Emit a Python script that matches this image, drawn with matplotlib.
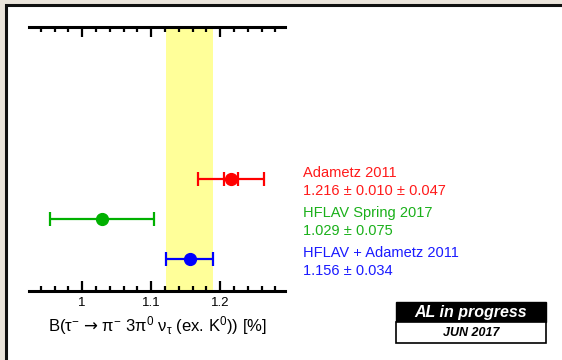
import numpy as np
import matplotlib
matplotlib.use("Agg")
import matplotlib.pyplot as plt
from matplotlib.patches import Rectangle
from matplotlib import transforms

plt.rcParams['font.family'] = ['Liberation Sans', 'DejaVu Sans']
plt.rcParams['mathtext.fontset'] = 'custom'
plt.rcParams['mathtext.rm'] = 'Liberation Sans'
plt.rcParams['mathtext.it'] = 'Liberation Sans'
plt.rcParams['mathtext.bf'] = 'Liberation Sans:bold'
plt.rcParams['mathtext.sf'] = 'DejaVu Sans'

# Measurements of B(tau -> pi 3pi0 nu) [%]
names = ["Adametz 2011", "HFLAV Spring 2017", "HFLAV + Adametz 2011"]
values = [1.216, 1.029, 1.156]
stat_err = [0.010, 0.075, 0.034]
syst_err = [0.047, None, None]
colors = ["#ff0000", "#00b000", "#0000ff"]
text_colors = ["#ff1a1a", "#1ab01a", "#1a1aff"]
rows = [3, 2, 1]

major_ticks = [1.0, 1.1, 1.2]
tick_labels = ["1", "1.1", "1.2"]

W, H = 562, 360
fig = plt.figure(figsize=(W / 100, H / 100), dpi=100)
fig.patch.set_facecolor("#ebe5dc")

def fx(px):
    return px / W

def fy(py):
    return 1 - py / H

# white panel with a dark frame
fig.patches.append(Rectangle((fx(5.5), fy(400)), fx(700), 400 / H - 5.5 / H,
                             transform=fig.transFigure, facecolor="white",
                             edgecolor="#111111", linewidth=2.2, zorder=-10))

ax = fig.add_axes([fx(29), fy(291), fx(285) - fx(29), fy(27) - fy(291)])
ax.set_facecolor("none")
ax.set_xlim(0.923, 1.294)
ax.set_ylim(0.2, 6.8)

# combined average band
avg, avg_err = values[2], stat_err[2]
ax.axvspan(avg - avg_err, avg + avg_err, color="#ffff99", zorder=0, lw=0)

base = transforms.blended_transform_factory(fig.transFigure, ax.transData)
t_name = transforms.offset_copy(base, fig=fig, x=0, y=4.5, units="points")
t_val = transforms.offset_copy(base, fig=fig, x=0, y=-8.5, units="points")

for name, v, s, sy, c, tc, r in zip(names, values, stat_err, syst_err,
                                     colors, text_colors, rows):
    tot = s if sy is None else np.hypot(s, sy)
    ax.errorbar(v, r, xerr=tot, fmt="o", color=c, ms=8.5, elinewidth=1.6,
                capsize=5, capthick=1.6, zorder=3)
    if sy is not None:
        ax.errorbar(v, r, xerr=s, fmt="none", ecolor=c, elinewidth=1.6,
                    capsize=5, capthick=1.6, zorder=3)
    if sy is None:
        vtxt = f"{v:.3f} \u00b1 {s:.3f}"
    else:
        vtxt = f"{v:.3f} \u00b1 {s:.3f} \u00b1 {sy:.3f}"
    ax.text(fx(303), r, name, transform=t_name, color=tc, fontsize=10.5,
            va="center", ha="left", clip_on=False)
    ax.text(fx(303), r, vtxt, transform=t_val, color=tc, fontsize=10.5,
            va="center", ha="left", clip_on=False)

for side in ["left", "right"]:
    ax.spines[side].set_visible(False)
for side in ["top", "bottom"]:
    ax.spines[side].set_linewidth(2.2)

ax.set_yticks([])
ax.set_xticks(major_ticks)
ax.set_xticklabels(tick_labels)
ax.set_xticks(np.arange(0.94, 1.2901, 0.02), minor=True)
ax.tick_params(axis="x", which="both", direction="in", top=True, bottom=True,
               width=1.6, labelsize=9.5, pad=4)
ax.tick_params(axis="x", which="major", length=7)
ax.tick_params(axis="x", which="minor", length=3.5)

ax.set_xlabel("B(\u03c4$^{-}$ $\\mathsf{\u2192}$ \u03c0$^{-}$ 3\u03c0$^{0}$ \u03bd$_{\u03c4}$ (ex. K$^{0}$)) [%]",
              fontsize=12, labelpad=4)

# status box
fig.patches.append(Rectangle((fx(396), fy(322)), fx(546) - fx(396), fy(302) - fy(322),
                             transform=fig.transFigure, facecolor="black",
                             edgecolor="black", linewidth=1, zorder=2))
fig.patches.append(Rectangle((fx(396), fy(343)), fx(546) - fx(396), fy(322) - fy(343),
                             transform=fig.transFigure, facecolor="white",
                             edgecolor="black", linewidth=1.2, zorder=2))
fig.text(fx(471), fy(312), "AL in progress", color="white", fontsize=11.5,
         fontweight="bold", fontstyle="italic", ha="center", va="center", zorder=3)
fig.text(fx(471), fy(332.5), "JUN 2017", color="black", fontsize=9,
         fontweight="bold", fontstyle="italic", ha="center", va="center", zorder=3)

fig.savefig("out.png", dpi=100, facecolor=fig.get_facecolor())
